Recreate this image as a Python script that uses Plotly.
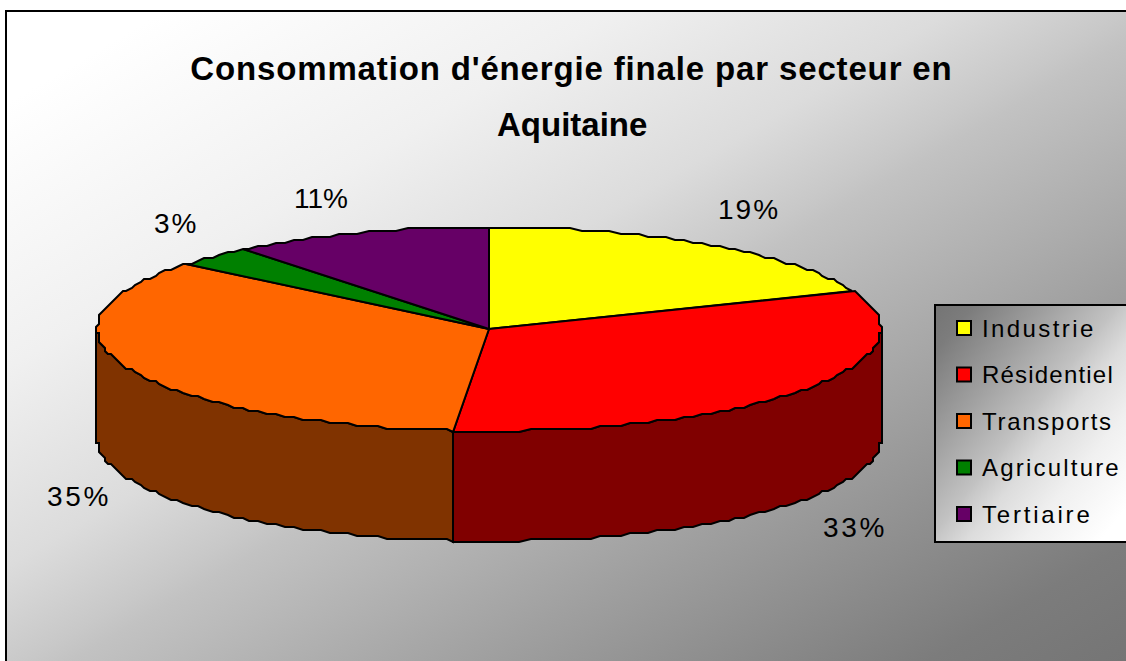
import base64
import numpy as np
import plotly.graph_objects as go

# ---- data
categories = ["Industrie", "Résidentiel", "Transports", "Agriculture", "Tertiaire"]
values = [19.0, 32.5, 34.4, 3.3, 10.8]
pct_labels = ["19%", "33%", "35%", "3%", "11%"]
title_lines = ["Consommation d'énergie finale par secteur en", "Aquitaine"]

# ---- styles
top_colors = ["#FFFF00", "#FF0000", "#FF6600", "#008000", "#660066"]
side_colors = ["#808000", "#800000", "#803300", "#004000", "#330033"]
W, H = 1126, 661
CX, CY, RX, RY, DEPTH = 489, 329, 392, 102, 110
label_pos = [(749, 209), (855, 527), (79, 496), (176, 223), (321, 198)]
FONT = "Liberation Sans"
GRID = 3.0
STEP = 1.5
BG_STOPS = [(0, 255), (.07, 255), (.27, 240), (.42, 220), (.50, 200), (.52, 194),
            (.70, 160), (.90, 124), (1, 116)]


def stops_svg(stops):
    return "".join(f'<stop offset="{o}" stop-color="rgb({g},{g},{g})"/>' for o, g in stops)


def svg_uri(w, h, gradient_attrs, stops):
    svg = (f'<svg xmlns="http://www.w3.org/2000/svg" width="{w}" height="{h}">'
           f'<defs><linearGradient id="g" {gradient_attrs}>{stops_svg(stops)}'
           f'</linearGradient></defs><rect width="{w}" height="{h}" fill="url(#g)"/></svg>')
    return "data:image/svg+xml;base64," + base64.b64encode(svg.encode()).decode()


def ellipse(a_deg):
    # outline of the disc; the reference outline is visibly stepped, so snap to a coarse grid
    a = np.radians(a_deg)
    x = CX + RX * np.sin(a)
    y = CY - RY * np.cos(a)
    return np.round(x / GRID) * GRID, np.round(y / GRID) * GRID


def arc(lo, hi):
    inner = np.arange(np.ceil(lo / STEP), np.floor(hi / STEP) + 1) * STEP
    return np.unique(np.r_[lo, inner, hi])


fracs = np.array(values) / sum(values) * 360
ends = np.cumsum(fracs)
starts = ends - fracs
LINE = dict(color="black", width=2, shape="linear")

fig = go.Figure()

# side walls (only the part of each slice facing the viewer)
for s, e, col in zip(starts, ends, side_colors):
    lo, hi = max(s, 90), min(e, 270)
    if hi <= lo:
        continue
    x, y = ellipse(arc(lo, hi))
    fig.add_trace(go.Scatter(
        x=np.r_[x, x[::-1], x[0]], y=np.r_[y, y[::-1] + DEPTH, y[0]],
        mode="lines", fill="toself", fillcolor=col,
        line=LINE, hoverinfo="skip", showlegend=False))

# top faces
for s, e, col, name in zip(starts, ends, top_colors, categories):
    x, y = ellipse(arc(s, e))
    fig.add_trace(go.Scatter(
        x=np.r_[CX, x, CX], y=np.r_[CY, y, CY],
        mode="lines", fill="toself", fillcolor=col, name=name,
        line=LINE, showlegend=False))

# manual legend
LEG_X, LEG_Y0, LEG_DY, LEG_TX = 964, 328, 46.5, 979.5
leg_y = [LEG_Y0 + i * LEG_DY for i in range(len(categories))]
fig.add_trace(go.Scatter(
    x=[LEG_X] * len(categories), y=leg_y, mode="markers",
    marker=dict(symbol="square", size=14, color=top_colors, line=dict(color="black", width=2)),
    hoverinfo="skip", showlegend=False))

annotations = [
    dict(x=571, y=68, text=title_lines[0], showarrow=False,
         font=dict(family=FONT, size=33, color="black", weight="bold")),
    dict(x=572, y=124, text=title_lines[1], showarrow=False,
         font=dict(family=FONT, size=33, color="black", weight="bold")),
]
for (px, py), t in zip(label_pos, pct_labels):
    annotations.append(dict(x=px, y=py, text=t, showarrow=False,
                            font=dict(family=FONT, size=28, color="black")))
for yy, t in zip(leg_y, categories):
    annotations.append(dict(x=LEG_TX, y=yy, text=t, showarrow=False, xanchor="left",
                            font=dict(family=FONT, size=24, color="black")))

leg_stops = [(round(1 - o, 3), g) for o, g in reversed(BG_STOPS)]
fig.update_layout(
    width=W, height=H, margin=dict(l=0, r=0, t=0, b=0),
    paper_bgcolor="white", plot_bgcolor="rgba(0,0,0,0)",
    xaxis=dict(range=[0, W], visible=False, fixedrange=True),
    yaxis=dict(range=[H, 0], visible=False, fixedrange=True),
    annotations=annotations, showlegend=False,
    images=[
        dict(source=svg_uri(W - 6, H - 11,
                            'gradientUnits="userSpaceOnUse" x1="0" y1="0" x2="578" y2="984"', BG_STOPS),
             xref="x", yref="y", x=6, y=11, sizex=W - 6, sizey=H - 11, sizing="stretch",
             layer="below", xanchor="left", yanchor="top"),
        dict(source=svg_uri(W - 935, 237, 'x1="0" y1="0" x2="1" y2="1"', leg_stops),
             xref="x", yref="y", x=935, y=305, sizex=W - 935, sizey=237, sizing="stretch",
             layer="below", xanchor="left", yanchor="top"),
    ],
    shapes=[
        dict(type="rect", x0=6, y0=11, x1=W + 5, y1=H + 5, line=dict(color="black", width=2),
             layer="above"),
        dict(type="rect", x0=935, y0=305, x1=W + 5, y1=542, line=dict(color="black", width=2),
             layer="above"),
    ],
)
post = """
document.body.style.margin = '0';
document.documentElement.style.overflow = 'hidden';
var spacing = {'Aquitaine': 0, '11%': 0, '19%': 2, '3%': 2, '33%': 2.7, '35%': 2.7};
var legend = {'Industrie': 2.4, 'Résidentiel': 1.2, 'Transports': 1.7, 'Agriculture': 2.2, 'Tertiaire': 2.8};
document.querySelectorAll('.annotation-text').forEach(function (el) {
  var t = el.textContent;
  var before = el.getComputedTextLength();
  var isLegend = t in legend;
  var sp = t.indexOf('Consommation') === 0 ? 0.85 : (isLegend ? legend[t] : spacing[t]);
  el.style.letterSpacing = sp + 'px';
  if (isLegend) {
    var after = el.getComputedTextLength();
    el.setAttribute('x', parseFloat(el.getAttribute('x')) + (after - before) / 2);
  }
});
"""
fig.write_html("out.html", config={"displayModeBar": False, "responsive": False}, post_script=post)
